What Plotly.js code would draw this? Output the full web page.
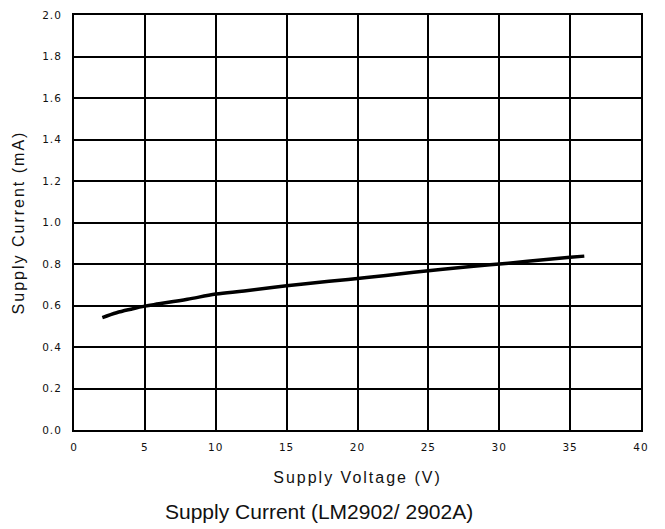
<!DOCTYPE html>
<html>
<head>
<meta charset="utf-8">
<script src="https://cdn.plot.ly/plotly-3.0.1.min.js"></script>
<style>
html,body{margin:0;padding:0;background:#fff;}
#chart{width:665px;height:529px;}
.xtick text,.ytick text{letter-spacing:1px;}
.ytitle{letter-spacing:2px;}
.xtitle{letter-spacing:2px;}
</style>
</head>
<body>
<div id="chart"></div>
<script>
const voltage = [2, 3, 4, 5, 6, 8, 10, 12, 15, 18, 20, 22, 25, 28, 30, 32, 35, 36];
const current = [0.542, 0.565, 0.582, 0.597, 0.608, 0.630, 0.655, 0.670, 0.695, 0.717, 0.730, 0.745, 0.768, 0.788, 0.800, 0.813, 0.832, 0.838];
const xTitle = "Supply Voltage (V)";
const yTitle = "Supply Current (mA)";
const caption = "Supply Current (LM2902/ 2902A)";

const trace = {
  x: voltage, y: current, type: "scatter", mode: "lines",
  line: {color: "#000", width: 3.5, shape: "spline"}, hoverinfo: "skip"
};

const layout = {
  width: 665, height: 529,
  margin: {l: 74, r: 24, t: 15, b: 99},
  paper_bgcolor: "#fff", plot_bgcolor: "#fff",
  showlegend: false,
  font: {family: "Liberation Sans, Arial, sans-serif", color: "#111"},
  xaxis: {
    range: [0, 40], tickmode: "linear", tick0: 0, dtick: 5,
    showgrid: true, gridcolor: "#000", gridwidth: 2,
    zeroline: false, showline: true, linecolor: "#000", linewidth: 2, mirror: true,
    ticks: "", ticklabelstandoff: 6,
    tickfont: {size: 10.5, color: "#111", family: "DejaVu Sans, sans-serif"},
    title: {text: xTitle, font: {size: 16, color: "#111"}, standoff: 20}
  },
  yaxis: {
    range: [0, 2], tickmode: "linear", tick0: 0, dtick: 0.2, tickformat: ".1f",
    showgrid: true, gridcolor: "#000", gridwidth: 2,
    zeroline: false, showline: true, linecolor: "#000", linewidth: 2, mirror: true,
    ticks: "", ticklabelstandoff: 8,
    tickfont: {size: 10.5, color: "#111", family: "DejaVu Sans, sans-serif"},
    title: {text: yTitle, font: {size: 16, color: "#111"}, standoff: 14}
  },
  annotations: [{
    text: caption, xref: "paper", yref: "paper", x: 0.432, y: -0.197,
    xanchor: "center", yanchor: "middle", showarrow: false,
    font: {size: 21, color: "#111", family: "Liberation Sans, Arial, sans-serif"}
  }]
};

Plotly.newPlot("chart", [trace], layout, {displayModeBar: false, staticPlot: true});
</script>
</body>
</html>
